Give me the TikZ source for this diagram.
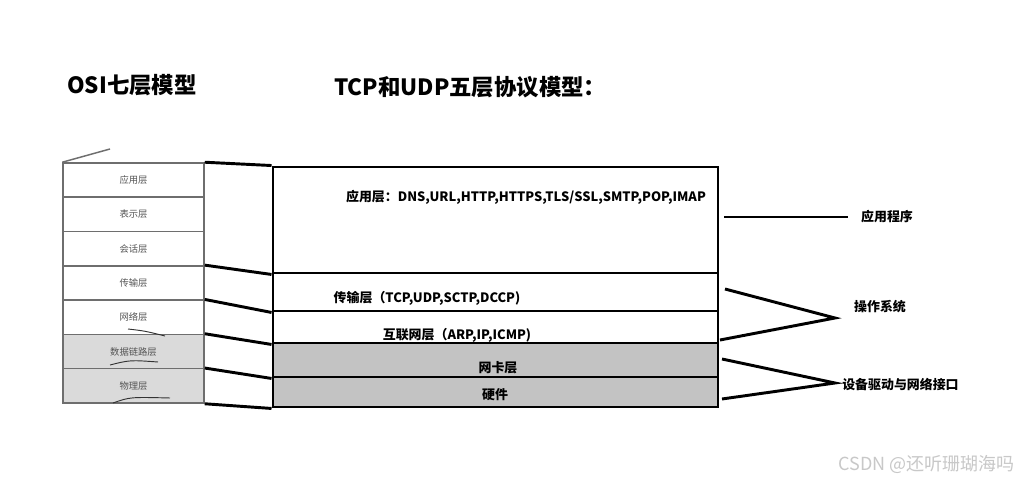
\documentclass[tikz,border=0pt]{standalone}
\usepackage{fontspec}
\setmainfont{Liberation Sans}
\newfontfamily\cjk{Noto Sans CJK SC}
\definecolor{osigray}{HTML}{6E6E6E}
\definecolor{osifill}{HTML}{DADADA}
\definecolor{tcpfill}{HTML}{C3C3C3}
\definecolor{ositext}{HTML}{555555}
\definecolor{wm}{HTML}{C8C8C8}
\tikzset{
  osirow/.style={draw=osigray, line width=1.1pt, minimum width=105.75pt, minimum height=25.7pt, inner sep=0pt, font=\cjk\fontsize{7}{8}\selectfont, text=ositext},
  tcprow/.style={draw=black, line width=2.2pt, minimum width=333.75pt, inner sep=0pt},
  thick line/.style={draw=black, line width=2.2pt},
  label text/.style={font=\cjk\bfseries\fontsize{9.7}{11}\selectfont, inner sep=0pt},
  title text/.style={font=\cjk\bfseries\fontsize{16.8}{19}\selectfont, inner sep=0pt, anchor=west},
  pen/.style={draw=black!80, line width=0.7pt}
}
\begin{document}
\begin{tikzpicture}[x=0.75pt,y=-0.75pt]
\useasboundingbox (0,0) rectangle (1022,484);
\fill[white] (0,0) rectangle (1022,484);

% titles
\node[title text] (t_osi) at (67,85) {OSI七层模型};
\node[title text] (t_tcp) at (334,87) {TCP和UDP五层协议模型：};

% OSI stack
\node[osirow] (o1) at (133.5,180.1) {应用层};
\node[osirow] (o2) at (133.5,214.4) {表示层};
\node[osirow] (o3) at (133.5,248.7) {会话层};
\node[osirow] (o4) at (133.5,283.0) {传输层};
\node[osirow] (o5) at (133.5,317.3) {网络层};
\node[osirow, fill=osifill] (o6) at (133.5,351.6) {数据链路层};
\node[osirow, fill=osifill] (o7) at (133.5,385.9) {物理层};
\coordinate (slant) at (110,149);
\draw[draw=osigray, line width=1.1pt] (o1.north west) -- (slant);
% handwritten underlines
\coordinate (u1a) at (128,329); \coordinate (u1b) at (165,336);
\coordinate (u2a) at (110,365); \coordinate (u2b) at (158,362);
\coordinate (u3a) at (113,403); \coordinate (u3b) at (170,398);
\draw[pen] (u1a) .. controls (145,331) .. (u1b);
\draw[pen] (u2a) .. controls (130,360) .. (u2b);
\draw[pen] (u3a) .. controls (130,397) .. (u3b);

% TCP/IP stack
\node[tcprow, minimum height=79.5pt] (t1) at (495.5,220) {};
\node[tcprow, minimum height=28.5pt] (t2) at (495.5,292) {};
\node[tcprow, minimum height=24pt] (t3) at (495.5,327) {};
\node[tcprow, minimum height=25.5pt, fill=tcpfill] (t4) at (495.5,360) {};
\node[tcprow, minimum height=22.5pt, fill=tcpfill] (t5) at (495.5,392) {};

\node[label text] (l1) at (526,197) {应用层：DNS,URL,HTTP,HTTPS,TLS/SSL,SMTP,POP,IMAP};
\node[label text] (l2) at (427,298) {传输层（TCP,UDP,SCTP,DCCP)};
\node[label text] (l3) at (457,335) {互联网层（ARP,IP,ICMP)};
\node[label text] (l4) at (498,368) {网卡层};
\node[label text] (l5) at (495,395) {硬件};

% OSI -> TCP connectors
\draw[thick line] (o1.north east) -- (t1.north west);
\draw[thick line] (o4.north east) -- (t1.south west);
\draw[thick line] (o5.north east) -- (t2.south west);
\draw[thick line] (o6.north east) -- (t3.south west);
\draw[thick line] (o7.north east) -- (t4.south west);
\draw[thick line] (o7.south east) -- (t5.south west);

% right side labels
\node[label text] (r1) at (887,217) {应用程序};
\node[label text] (r2) at (880,307) {操作系统};
\node[label text, anchor=west] (r3) at (842,385) {设备驱动与网络接口};

\coordinate (a1) at (724,217);
\coordinate (a2) at (848,217);
\draw[thick line] (a1) -- (a2);

\coordinate (b1) at (725,289);
\coordinate (b2) at (835,318);
\coordinate (b3) at (720,340);
\draw[thick line] (b1) -- (b2) -- (b3);

\coordinate (c1) at (722,359);
\coordinate (c2) at (835,383);
\coordinate (c3) at (722,399);
\draw[thick line] (c1) -- (c2) -- (c3);

% watermark
\node[font=\cjk\fontsize{13.5}{15}\selectfont, text=wm, anchor=east, inner sep=0pt] (w) at (1015,464) {CSDN @还听珊瑚海吗};
\end{tikzpicture}
\end{document}
